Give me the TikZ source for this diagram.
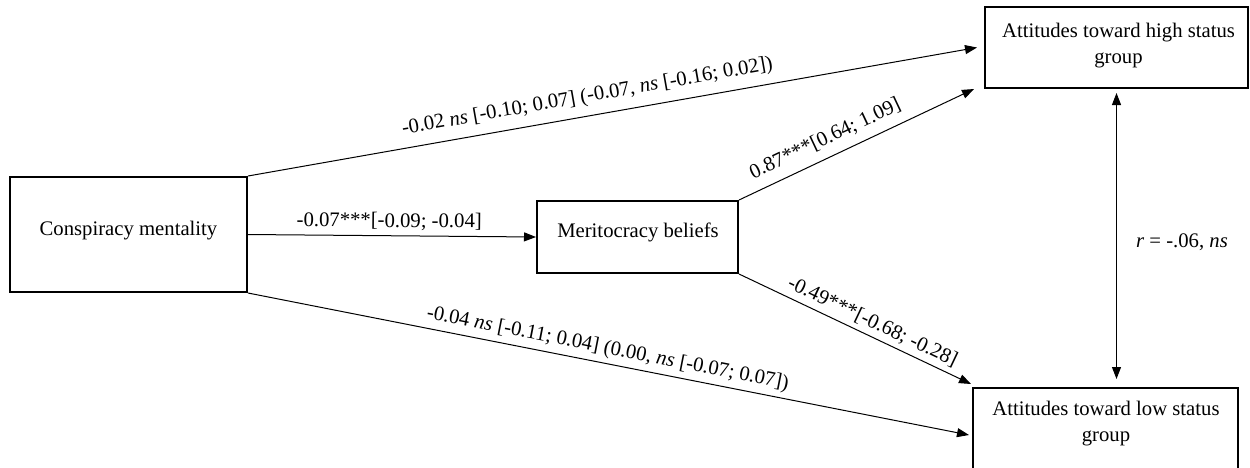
\documentclass[tikz,border=0pt]{standalone}
\usepackage{fontspec}
\setmainfont{Liberation Serif}
\usetikzlibrary{arrows.meta}
\begin{document}
\begin{tikzpicture}[x=1pt,y=-1pt,
  every node/.style={font=\fontsize{20.7pt}{26.5pt}\selectfont},
  varbox/.style={draw=black,line width=2pt,rectangle,inner sep=0pt},
  vartext/.style={inner sep=0pt,anchor=base,align=center},
  arr/.style={line width=1pt,-{Triangle[length=12pt,width=9pt]}},
  dbl/.style={line width=1pt,{Triangle[length=12pt,width=9pt]}-{Triangle[length=12pt,width=9pt]}},
  coef/.style={inner sep=0pt,sloped}]
\useasboundingbox (0,0) rectangle (1250,467);

% variable boxes
\node[varbox,minimum width=237pt,minimum height=115pt] (consp) at (128.5,234.5) {};
\node[varbox,minimum width=201pt,minimum height=72pt] (merit) at (637.5,237) {};
\node[varbox,minimum width=263pt,minimum height=81pt] (high) at (1116.5,47.5) {};
\node[varbox,minimum width=265pt,minimum height=81pt] (low) at (1105.5,428.5) {};

% box captions (base anchor of a two-line caption sits on its last line)
\node[vartext] (consptxt) at (128.5,235) {Conspiracy mentality};
\node[vartext] (merittxt) at (638,237) {Meritocracy beliefs};
\node[vartext] (hightxt) at (1118.5,63.5) {Attitudes toward high status\\group};
\node[vartext] (lowtxt) at (1106,441.5) {Attitudes toward low status\\group};

% paths with coefficients
\draw[arr] (consp.north east) -- ([xshift=-7pt]high.west)
  node[coef,pos=0.47,above=9pt] (c1) {-0.02 \textit{ns} [-0.10; 0.07] (-0.07, \textit{ns} [-0.16; 0.02])};
\draw[arr] (consp.east) -- (merit.west)
  node[coef,pos=0.49,above=5pt] (c2) {-0.07***[-0.09; -0.04]};
\draw[arr] (consp.south east) -- ([xshift=-3pt,yshift=-6.5pt]low.west)
  node[coef,pos=0.495,above=4.6pt] (c3) {-0.04 \textit{ns} [-0.11; 0.04] (0.00, \textit{ns} [-0.07; 0.07])};
\draw[arr] (merit.north east) -- ([xshift=-10pt]high.south west)
  node[coef,pos=0.40,above=9pt] (c4) {0.87***[0.64; 1.09]};
\draw[arr] (merit.south east) -- ([xshift=-1pt,yshift=3pt]low.north west)
  node[coef,pos=0.55,above=4.6pt] (c5) {-0.49***[-0.68; -0.28]};

% residual correlation
\draw[dbl] ([yshift=-4pt]high.south) -- ([yshift=8pt]high.south |- low.north);
\node[inner sep=0pt,anchor=base] (corr) at (1182,247) {\textit{r} = -.06, \textit{ns}};
\end{tikzpicture}
\end{document}
